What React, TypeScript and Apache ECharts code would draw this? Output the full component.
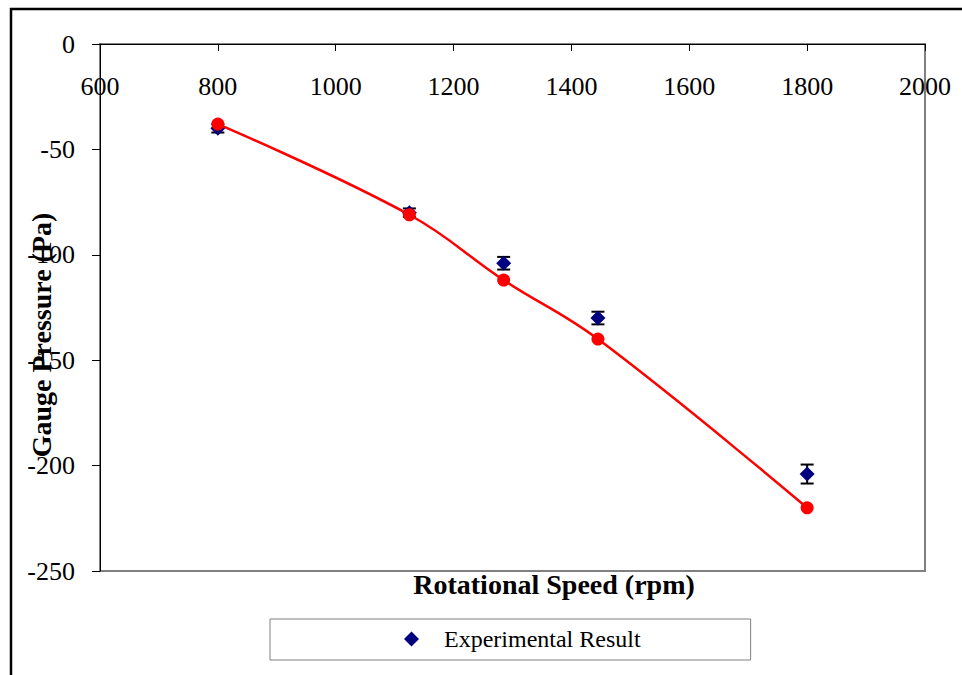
import React, { useEffect, useRef } from "react";
import * as echarts from "echarts";

const speeds = [800, 1125, 1285, 1445, 1800];
const experimental = [-40, -80, -104, -130, -204];
const experimentalErr = [2, 2, 3, 3, 4.5];
const model = [-38, -81, -112, -140, -220];
const xTicks = { min: 600, max: 2000, interval: 200 };
const yTicks = { min: -250, max: 0, interval: 50 };

const FONT = "'Liberation Serif', 'Times New Roman', serif";

export default function App() {
  const ref = useRef<HTMLDivElement>(null);
  useEffect(() => {
    document.body.style.margin = "0";
    if (!ref.current) return;
    const chart = echarts.init(ref.current, null, { renderer: "svg" });
    chart.setOption({
      animation: false,
      backgroundColor: "#ffffff",
      grid: {
        left: 100,
        top: 44,
        right: 37,
        bottom: 104,
        show: true,
        borderColor: "#808080",
        borderWidth: 2,
        backgroundColor: "transparent",
        outerBoundsMode: "none",
        containLabel: false,
      },
      xAxis: {
        type: "value",
        position: "top",
        min: xTicks.min,
        max: xTicks.max,
        interval: xTicks.interval,
        axisLine: { show: true, onZero: false, lineStyle: { color: "#000", width: 1 } },
        axisTick: { show: true, inside: true, length: 7, lineStyle: { color: "#000", width: 1 } },
        axisLabel: {
          inside: true,
          margin: 29,
          fontSize: 26,
          fontFamily: FONT,
          color: "#000",
          showMinLabel: true,
          showMaxLabel: true,
          formatter: (v: number) => String(v),
        },
        splitLine: { show: false },
      },
      yAxis: {
        type: "value",
        min: yTicks.min,
        max: yTicks.max,
        interval: yTicks.interval,
        axisLine: { show: true, onZero: false, lineStyle: { color: "#000", width: 1 } },
        axisTick: { show: true, length: 8, lineStyle: { color: "#000", width: 1 } },
        axisLabel: {
          margin: 25,
          fontSize: 26,
          fontFamily: FONT,
          color: "#000",
          formatter: (v: number) => String(v),
        },
        splitLine: { show: false },
      },
      legend: {
        data: ["Experimental Result"],
        left: 270,
        top: 619,
        orient: "horizontal",
        icon: "diamond",
        itemWidth: 15,
        itemHeight: 15,
        padding: [8, 110, 9, 134],
        borderColor: "#808080",
        borderWidth: 1,
        selectedMode: false,
        itemStyle: { color: "#000080", opacity: 1 },
        textStyle: {
          fontSize: 24,
          fontFamily: FONT,
          color: "#000",
          lineHeight: 24,
          padding: [0, 0, 0, 20],
        },
      },
      graphic: [
        {
          type: "rect",
          shape: { x: 11, y: 9, width: 1000, height: 700 },
          style: { fill: "none", stroke: "#000", lineWidth: 2.5 },
          silent: true,
        },
        {
          type: "text",
          x: 554,
          y: 584,
          style: {
            text: "Rotational Speed (rpm)",
            fontSize: 28,
            fontWeight: "bold",
            fontFamily: FONT,
            fill: "#000",
            textAlign: "center",
            textVerticalAlign: "middle",
          },
        },
        {
          type: "text",
          x: 41,
          y: 335,
          rotation: Math.PI / 2,
          style: {
            text: "Gauge Pressure (Pa)",
            fontSize: 28,
            fontWeight: "bold",
            fontFamily: FONT,
            fill: "#000",
            textAlign: "center",
            textVerticalAlign: "middle",
          },
        },
      ],
      series: [
        {
          name: "Error",
          type: "custom",
          z: 1,
          data: speeds.map((s, i) => [s, experimental[i], experimentalErr[i]]),
          encode: { x: 0, y: 1 },
          renderItem: (params: any, api: any) => {
            const x = api.value(0);
            const y = api.value(1);
            const e = api.value(2);
            const top = api.coord([x, y + e]);
            const bot = api.coord([x, y - e]);
            const hw = 6.5;
            const st = { stroke: "#000", lineWidth: 2 };
            return {
              type: "group",
              children: [
                { type: "line", shape: { x1: top[0], y1: top[1], x2: bot[0], y2: bot[1] }, style: st },
                { type: "line", shape: { x1: top[0] - hw, y1: top[1], x2: top[0] + hw, y2: top[1] }, style: st },
                { type: "line", shape: { x1: bot[0] - hw, y1: bot[1], x2: bot[0] + hw, y2: bot[1] }, style: st },
              ],
            };
          },
        },
        {
          name: "Experimental Result",
          type: "scatter",
          z: 2,
          symbol: "diamond",
          symbolSize: 15,
          itemStyle: { color: "#000080", opacity: 1 },
          data: speeds.map((s, i) => [s, experimental[i]]),
        },
        {
          name: "Model",
          type: "line",
          z: 3,
          smooth: 0.4,
          symbol: "circle",
          symbolSize: 13,
          showSymbol: true,
          itemStyle: { color: "#ff0000", opacity: 1 },
          lineStyle: { color: "#ff0000", width: 2.5 },
          data: speeds.map((s, i) => [s, model[i]]),
        },
      ],
    });
    return () => chart.dispose();
  }, []);
  return <div ref={ref} style={{ width: 962, height: 675 }} />;
}
